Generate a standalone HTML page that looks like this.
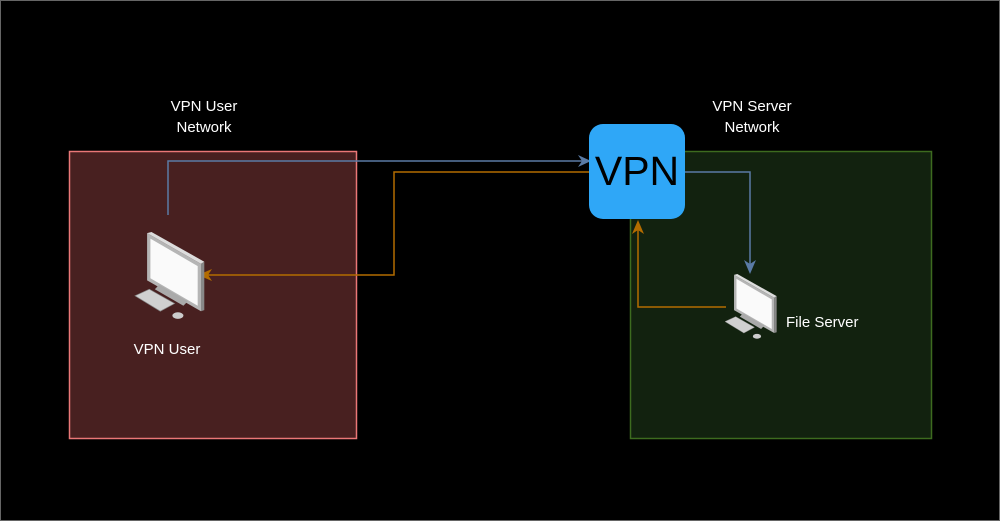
<!DOCTYPE html>
<html><head><style>
html,body{margin:0;padding:0;background:#000;}
body{width:1000px;height:521px;overflow:hidden;font-family:"Liberation Sans",sans-serif;}
svg{display:block;}
</style></head><body>
<svg width="1000" height="521" viewBox="0 0 1000 521" xmlns="http://www.w3.org/2000/svg" font-family="Liberation Sans, sans-serif">
<rect x="0.5" y="0.5" width="999" height="520" fill="#000" stroke="#666"/>
<rect x="69.5" y="151.5" width="287" height="287" fill="#482020" stroke="#ea7777" stroke-width="1.5"/>
<rect x="630.5" y="151.5" width="301" height="287" fill="#12220f" stroke="#3d6b1f" stroke-width="1.5"/>
<text x="204" y="111" fill="#fff" font-size="15" text-anchor="middle">VPN User</text>
<text x="204" y="132" fill="#fff" font-size="15" text-anchor="middle">Network</text>
<text x="752" y="111" fill="#fff" font-size="15" text-anchor="middle">VPN Server</text>
<text x="752" y="132" fill="#fff" font-size="15" text-anchor="middle">Network</text>
<polyline points="168,215 168,161 582,161" fill="none" stroke="#5a7ba6" stroke-width="1.5"/>
<polygon points="591,161 578,155 582,161 578,167" fill="#5a7ba6"/>
<polyline points="685,172 750,172 750,264" fill="none" stroke="#5a7ba6" stroke-width="1.5"/>
<polygon points="750,274 744,260 750,264 756,260" fill="#5a7ba6"/>
<polyline points="589,172 394,172 394,275 208,275" fill="none" stroke="#b36c00" stroke-width="1.5"/>
<polygon points="198,275 212,269 208,275 212,281" fill="#b36c00"/>
<polyline points="726,307 638,307 638,230" fill="none" stroke="#b36c00" stroke-width="1.5"/>
<polygon points="638,220 632,234 638,230 644,234" fill="#b36c00"/>
<rect x="589" y="124" width="96" height="95" rx="14" fill="#2fa7f7"/>
<text x="637" y="185" fill="#000" font-size="41" text-anchor="middle">VPN</text>
<g transform="translate(135,232) scale(1.1)">
 <polygon points="11,1 15,0 63,27 60,29" fill="#ddd"/>
 <polygon points="60,29 63,27 63,71 60,72" fill="#888"/>
 <polygon points="11,1 60,29 60,72 11,44" fill="#b5b5b5"/>
 <polygon points="14,6 57,31 57,67 14,42" style="fill:rgb(250,250,250)"/>
 <polygon points="22,48 48,63 44,67 18,52" fill="#aaa"/>
 <polygon points="0,58 13,52 36,65 23,72" fill="#d0d0d0" stroke="#888" stroke-width="0.6"/>
 <ellipse cx="39" cy="76" rx="5" ry="3" fill="#ccc"/>
</g>
<g transform="translate(725,274) scale(0.82)">
 <polygon points="11,1 15,0 63,27 60,29" fill="#ddd"/>
 <polygon points="60,29 63,27 63,71 60,72" fill="#888"/>
 <polygon points="11,1 60,29 60,72 11,44" fill="#b5b5b5"/>
 <polygon points="14,6 57,31 57,67 14,42" style="fill:rgb(250,250,250)"/>
 <polygon points="22,48 48,63 44,67 18,52" fill="#aaa"/>
 <polygon points="0,58 13,52 36,65 23,72" fill="#d0d0d0" stroke="#888" stroke-width="0.6"/>
 <ellipse cx="39" cy="76" rx="5" ry="3" fill="#ccc"/>
</g>
<text x="167" y="354" fill="#fff" font-size="15" text-anchor="middle">VPN User</text>
<text x="786" y="327" fill="#fff" font-size="15">File Server</text>
</svg>
</body></html>
